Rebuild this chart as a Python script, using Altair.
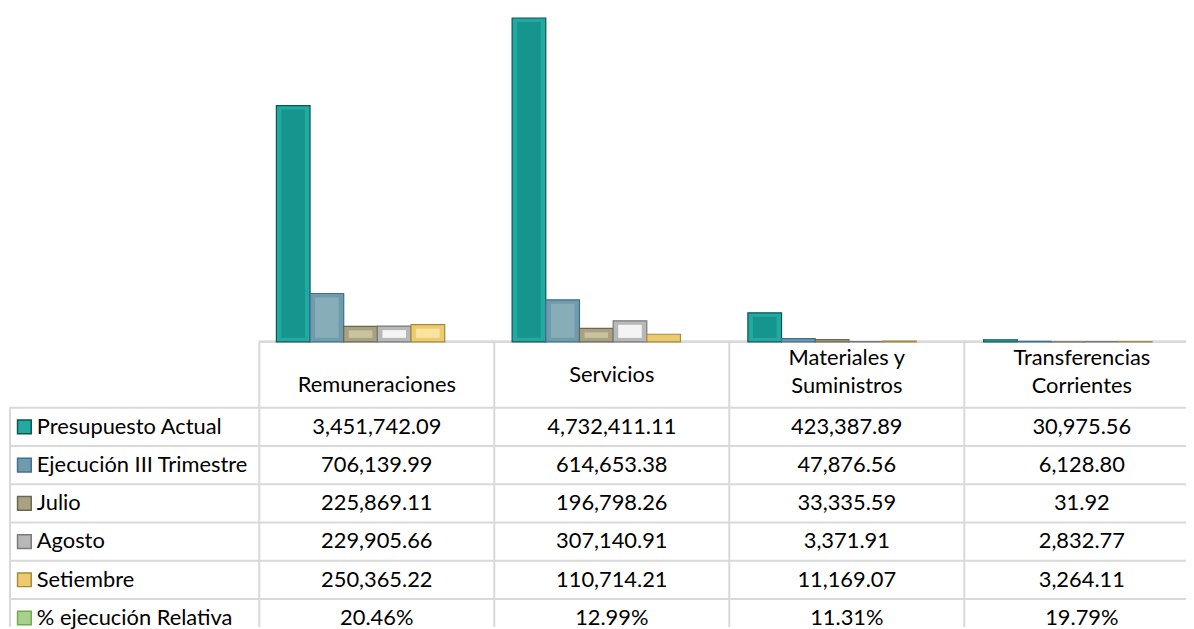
import altair as alt
import pandas as pd

# ---------------- data ----------------
categories = ["Remuneraciones", "Servicios", "Materiales y Suministros", "Transferencias Corrientes"]
header_lines = ["Remuneraciones", "Servicios", "Materiales y\nSuministros", "Transferencias\nCorrientes"]
series = ["Presupuesto Actual", "Ejecución III Trimestre", "Julio", "Agosto", "Setiembre"]
presupuesto = [3451742.09, 4732411.11, 423387.89, 30975.56]
ejecucion = [706139.99, 614653.38, 47876.56, 6128.80]
julio = [225869.11, 196798.26, 33335.59, 31.92]
agosto = [229905.66, 307140.91, 3371.91, 2832.77]
setiembre = [250365.22, 110714.21, 11169.07, 3264.11]
pct_label = "% ejecución Relativa"
pct = [20.46, 12.99, 11.31, 19.79]

rows = series + [pct_label]
edge_colors = ["#22aaa2", "#6f9bab", "#a8a283", "#b8b8b8", "#eccb6e", "#a9d18e"]
face_colors = ["#15958d", "#86adb8", "#c9c3a2", "#f4f4f4", "#fbe2a0", "#a9d18e"]
stroke_colors = ["#0c5552", "#3f6f95", "#6b6650", "#7a7a7a", "#a68a3e", "#70ad47"]

series_values = [presupuesto, ejecucion, julio, agosto, setiembre]

# ---------------- tables ----------------
bars = pd.DataFrame(
    [{"cat": c, "series": s, "value": v}
     for s, vals in zip(series, series_values) for c, v in zip(categories, vals)]
)
cells = pd.DataFrame(
    [{"cat": c, "row": s, "text": f"{v:,.2f}"}
     for s, vals in zip(series, series_values) for c, v in zip(categories, vals)]
    + [{"cat": c, "row": pct_label, "text": f"{p:.2f}%"} for c, p in zip(categories, pct)]
)
header = pd.DataFrame({"cat": categories, "text": header_lines})
rowdf = pd.DataFrame({"row": rows})
catdf = pd.DataFrame({"cat": categories})

FONT = "Lato"
FS = 22
GRID = "#d9d9d9"
TXT = "#000000"

W, H = 1186, 621
base_y = 334
y_max = 4800000
y_top = 3.3
units_per_px = y_max / (base_y - y_top)
inset = 4 * units_per_px  # bevel inset, in data units

# scales
bar_x = alt.Scale(domain=categories, range=[236.3, 1185.7], paddingInner=0, paddingOuter=0)
off_outer = alt.Scale(domain=series, range=[33.9, 203.4], paddingInner=0, paddingOuter=0)
off_inner = alt.Scale(domain=series, range=[33.9, 203.4], paddingInner=0.3, paddingOuter=0.15)
bar_y = alt.Scale(domain=[0, y_max], range=[base_y, y_top])
col_x = alt.Scale(domain=categories, range=[253, 1199.4], paddingInner=0, paddingOuter=0)
row_y = alt.Scale(domain=rows, range=[400.3, 631.3], paddingInner=0, paddingOuter=0)

edge_scale = alt.Scale(domain=rows, range=edge_colors)
face_scale = alt.Scale(domain=rows, range=face_colors)
stroke_scale = alt.Scale(domain=rows, range=stroke_colors)

# grid lines
h_rules = alt.Chart(rowdf).mark_rule(color=GRID, strokeWidth=2).encode(
    y=alt.Y("row:N", scale=row_y, axis=None, bandPosition=0),
    x=alt.value(2), x2=alt.value(W),
)
top_rule = alt.Chart(catdf).mark_rule(color=GRID, strokeWidth=2).encode(
    y=alt.value(base_y), x=alt.value(253), x2=alt.value(W),
)
v_rules = alt.Chart(catdf).mark_rule(color=GRID, strokeWidth=2).encode(
    x=alt.X("cat:N", scale=col_x, axis=None, bandPosition=0),
    y=alt.value(base_y), y2=alt.value(H),
)
left_rule = alt.Chart(catdf).mark_rule(color=GRID, strokeWidth=2).encode(
    x=alt.value(2), y=alt.value(400.3), y2=alt.value(H),
)

# bars
outer = alt.Chart(bars).mark_bar(strokeWidth=1.2).encode(
    x=alt.X("cat:N", scale=bar_x, axis=None, sort=categories),
    xOffset=alt.XOffset("series:N", scale=off_outer, sort=series),
    y=alt.Y("value:Q", scale=bar_y, axis=None),
    fill=alt.Fill("series:N", scale=edge_scale, legend=None),
    stroke=alt.Stroke("series:N", scale=stroke_scale, legend=None),
)
inner = alt.Chart(bars).transform_filter(
    alt.datum.value > 150000
).transform_calculate(
    top=alt.datum.value - inset, bottom=f"{inset}"
).mark_bar().encode(
    x=alt.X("cat:N", scale=bar_x, axis=None, sort=categories),
    xOffset=alt.XOffset("series:N", scale=off_inner, sort=series),
    y=alt.Y("top:Q", scale=bar_y, axis=None),
    y2="bottom:Q",
    color=alt.Color("series:N", scale=face_scale, legend=None),
)

# table text
def head_layer(names, ypos):
    return alt.Chart(header).transform_filter(
        alt.FieldOneOfPredicate(field="cat", oneOf=names)
    ).mark_text(
        font=FONT, fontSize=FS, color=TXT, lineBreak="\n", lineHeight=29, baseline="middle"
    ).encode(
        x=alt.X("cat:N", scale=col_x, axis=None),
        y=alt.value(ypos),
        text="text:N",
    )

head_a = head_layer([categories[0]], 377)
head_b = head_layer([categories[1]], 367)
head_c = head_layer(categories[2:], 350)

cell_text = alt.Chart(cells).mark_text(font=FONT, fontSize=FS, color=TXT).encode(
    x=alt.X("cat:N", scale=col_x, axis=None),
    y=alt.Y("row:N", scale=row_y, axis=None),
    text="text:N",
)
row_text = alt.Chart(rowdf).mark_text(font=FONT, fontSize=FS, color=TXT, align="left").encode(
    x=alt.value(29),
    y=alt.Y("row:N", scale=row_y, axis=None),
    text="row:N",
)
legend_sq = alt.Chart(rowdf).mark_square(size=190, opacity=1, strokeWidth=1.5).encode(
    x=alt.value(16.5),
    y=alt.Y("row:N", scale=row_y, axis=None),
    fill=alt.Fill("row:N", scale=edge_scale, legend=None),
    stroke=alt.Stroke("row:N", scale=stroke_scale, legend=None),
)

chart = alt.layer(
    h_rules, top_rule, v_rules, left_rule, outer, inner,
    head_a, head_b, head_c, cell_text, row_text, legend_sq
).resolve_scale(
    x="independent", y="independent", xOffset="independent",
    color="independent", fill="independent", stroke="independent"
).properties(
    width=W, height=H, padding=0, autosize=alt.AutoSizeParams(type="none"),
    background="white",
).configure_view(stroke=None)

chart.save("out.html", embed_options={"renderer": "svg", "actions": False})
